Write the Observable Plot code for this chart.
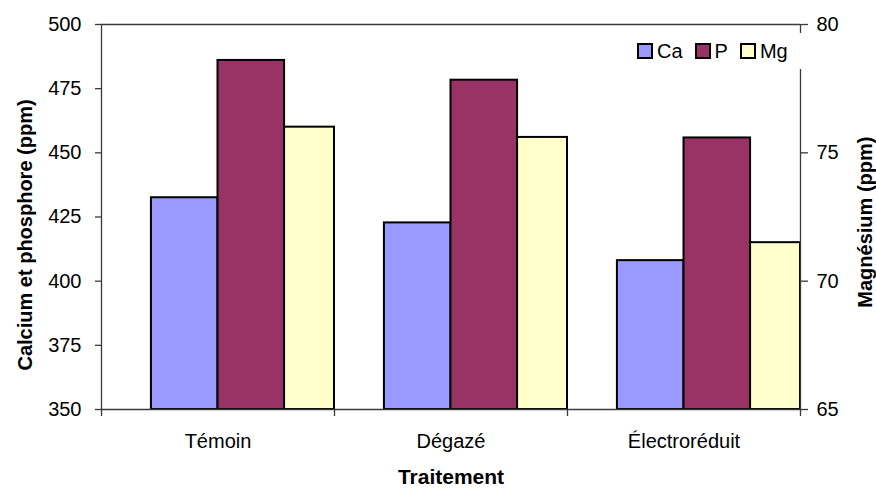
<!DOCTYPE html>
<html>
<head>
<meta charset="utf-8">
<script src="https://cdn.jsdelivr.net/npm/d3@7"></script>
<script src="https://cdn.jsdelivr.net/npm/@observablehq/plot@0.6"></script>
<style>
  body { margin: 0; background: #fff; font-family: "Liberation Sans", Arial, sans-serif; }
  #chart { position: relative; width: 876px; height: 489px; }
  .legend {
    position: absolute; left: 631px; top: 33px; width: 172px; height: 36px;
    background: #fff; display: flex; align-items: center; font-size: 20px; color: #000;
  }
  .legend .item { display: flex; align-items: center; margin-left: 6px; margin-right: 6px; }
  .legend .sw { width: 12px; height: 12px; border: 2px solid #000; margin-right: 4px; }
</style>
</head>
<body>
<div id="chart"></div>
<script>
// Mineral content (ppm) per treatment
const categories = ["Témoin", "Dégazé", "Électroréduit"];
const calcium    = [432.5, 422.7, 408.0];
const phosphore  = [486.0, 478.3, 455.8];
const magnesium  = [76.0, 75.6, 71.5];

const seriesNames  = ["Ca", "P", "Mg"];
const seriesColors = ["#9999ff", "#993366", "#ffffcc"];

const leftTicks  = [350, 375, 400, 425, 450, 475, 500];
const rightTicks = [65, 70, 75, 80];

// Magnesium lives on the secondary axis (65–80), mapped onto the primary one (350–500)
const toLeft = m => 350 + (m - 65) * 10;
const fromLeft = v => Math.round((v - 350) / 10 + 65);

// Cluster layout within each category slot: Ca and P are 2/7 of a slot, Mg fills the rest
const w = 2 / 7;
const rows = [];
categories.forEach((c, i) => {
  rows.push({cat: c, series: "Ca", x1: i + 0.5 - w, x2: i + 0.5, v: calcium[i], color: seriesColors[0]});
  rows.push({cat: c, series: "P", x1: i + 0.5, x2: i + 0.5 + w, v: phosphore[i], color: seriesColors[1]});
  rows.push({cat: c, series: "Mg", x1: i + 0.5 + w, x2: i + 1, v: toLeft(magnesium[i]), color: seriesColors[2]});
});

const axisColor = "#3a3a3a";

const chart = Plot.plot({
  width: 876,
  height: 489,
  marginLeft: 101,
  marginRight: 76,
  marginTop: 24,
  marginBottom: 80,
  style: {fontFamily: "'Liberation Sans', Arial, sans-serif", fontSize: "20px", background: "#fff", color: "#000"},
  x: {domain: [0, categories.length], axis: null},
  y: {domain: [350, 500], axis: null},
  color: {type: "identity"},
  marks: [
    Plot.rect(rows, {x1: "x1", x2: "x2", y1: 350, y2: "v", fill: "color", stroke: "#000", strokeWidth: 2}),
    // axis lines
    Plot.ruleY([350, 500], {stroke: axisColor, strokeWidth: 1.3}),
    Plot.ruleX([0, categories.length], {stroke: axisColor, strokeWidth: 1.3}),
    // primary axis (Ca, P)
    Plot.axisY(leftTicks, {anchor: "left", tickSize: 6, tickPadding: 14, fontSize: 20, stroke: axisColor, strokeWidth: 1.3, label: null}),
    // secondary axis (Mg)
    Plot.axisY(rightTicks.map(toLeft), {anchor: "right", tickSize: 7, tickPadding: 9, fontSize: 20, stroke: axisColor, strokeWidth: 1.3, tickFormat: fromLeft, label: null}),
    // category separators
    Plot.axisX(d3.range(categories.length + 1), {anchor: "bottom", tickSize: 7, tickFormat: () => "", stroke: axisColor, strokeWidth: 1.3, label: null}),
    // category labels
    Plot.text(categories, {x: (d, i) => i + 0.5, y: 350, dy: 32, fontSize: 20, fill: "#000"}),
    // axis titles
    Plot.text(["Traitement"], {x: categories.length / 2, y: 350, dy: 68, fontSize: 21, fontWeight: "bold", fill: "#000"}),
    Plot.text(["Calcium et phosphore (ppm)"], {x: 0, y: 418, dx: -76, rotate: -90, fontSize: 20, fontWeight: "bold", fill: "#000"}),
    Plot.text(["Magnésium (ppm)"], {x: categories.length, y: 423, dx: 65, rotate: -90, fontSize: 20, fontWeight: "bold", fill: "#000"})
  ]
});

const host = document.getElementById("chart");
host.appendChild(chart);

// Legend box overlaid on the top-right of the plot area
const legend = document.createElement("div");
legend.className = "legend";
seriesNames.forEach((name, i) => {
  const item = document.createElement("div");
  item.className = "item";
  const sw = document.createElement("span");
  sw.className = "sw";
  sw.style.background = seriesColors[i];
  const label = document.createElement("span");
  label.textContent = name;
  item.appendChild(sw);
  item.appendChild(label);
  legend.appendChild(item);
});
host.appendChild(legend);
</script>
</body>
</html>
